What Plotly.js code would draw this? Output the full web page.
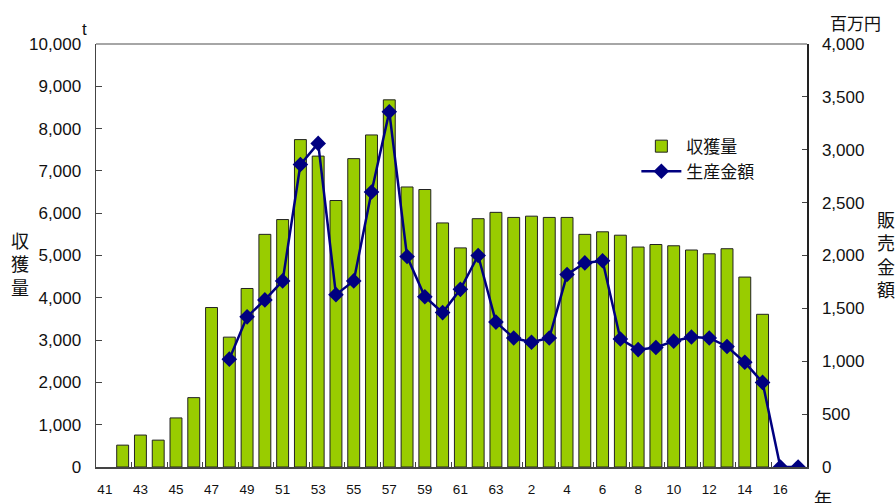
<!DOCTYPE html>
<html>
<head>
<meta charset="utf-8">
<script src="https://cdn.plot.ly/plotly-3.0.1.min.js"></script>
<style>html,body{margin:0;padding:0;background:#fff;}#chart{width:895px;height:503px;}</style>
</head>
<body>
<div id="chart"></div>
<script>
// 年（昭和41〜63、平成元〜17）
const years = ["41","42","43","44","45","46","47","48","49","50","51","52","53","54","55","56","57","58","59","60","61","62","63",
  "1","2","3","4","5","6","7","8","9","10","11","12","13","14","15","16","17"];
// 収獲量 (t)
const harvest = [null,517,755,635,1160,1640,3770,3070,4220,5500,5850,7740,7350,6300,7290,7850,8680,6620,6560,5770,5180,5870,6020,
  5900,5930,5900,5900,5500,5560,5480,5200,5260,5230,5130,5040,5160,4490,3610,null,null];
// 生産金額 (百万円)
const amount = [null,null,null,null,null,null,null,1020,1420,1580,1760,2860,3060,1630,1760,2600,3360,1990,1610,1460,1680,2000,1370,
  1220,1180,1220,1820,1930,1950,1210,1110,1130,1190,1230,1220,1140,990,800,0,0];

const fontFam = '"Liberation Sans", Arial, "Noto Sans CJK JP", sans-serif';
const jpFont = '"Noto Sans CJK JP", "Liberation Sans", sans-serif';

const traces = [
  {type:'bar', name:'収獲量', x:years, y:harvest, yaxis:'y',
   marker:{color:'#99CC00', line:{color:'#222', width:1}}, hoverinfo:'skip'},
  {type:'scatter', mode:'lines+markers', name:'生産金額', x:years, y:amount, yaxis:'y2',
   line:{color:'#000080', width:2.5}, marker:{symbol:'diamond', size:12, color:'#000080'},
   connectgaps:false, hoverinfo:'skip'}
];

const layout = {
  width:895, height:503,
  margin:{l:96, r:88, t:44, b:36},
  paper_bgcolor:'#fff', plot_bgcolor:'#fff',
  font:{family:fontFam, color:'#111', size:17},
  showlegend:true,
  legend:{x:0.76, y:0.80, xanchor:'left', yanchor:'top', bgcolor:'rgba(0,0,0,0)',
          font:{family:jpFont, size:17, color:'#111'}, tracegroupgap:0, itemwidth:40},
  bargap:0.33,
  xaxis:{type:'category', range:[-0.5,39.5], tickmode:'linear', tick0:0, dtick:2, tickangle:0,
         tickson:'boundaries', ticks:'inside', ticklen:5, tickcolor:'#444',
         showline:true, linecolor:'#444', linewidth:1.5, showgrid:false, zeroline:false,
         tickfont:{size:13.5, family:fontFam, color:'#111'}, ticklabelstandoff:9, fixedrange:true},
  yaxis:{range:[0,10000], dtick:1000, tickformat:',d', ticks:'inside', ticklen:6, tickcolor:'#444',
         showline:true, linecolor:'#444', linewidth:1.5, showgrid:false, zeroline:false,
         tickfont:{size:17, family:fontFam, color:'#111'}, ticklabelstandoff:10, fixedrange:true},
  yaxis2:{range:[0,4000], dtick:500, tickformat:',d', overlaying:'y', side:'right',
          ticks:'inside', ticklen:5, tickcolor:'#444',
          showline:true, linecolor:'#222', linewidth:1.5, showgrid:false, zeroline:false,
          tickfont:{size:17, family:fontFam, color:'#111'}, ticklabelstandoff:10, fixedrange:true},
  shapes:[
    {type:'line', xref:'paper', yref:'paper', x0:0, x1:1, y0:1, y1:1, line:{color:'#888', width:1.5}}
  ],
  annotations:[
    {text:'t', xref:'paper', yref:'paper', x:-0.016, y:1.0, xanchor:'center', yanchor:'bottom', yshift:3,
     showarrow:false, font:{family:fontFam, size:17, color:'#111'}},
    {text:'百万円', xref:'paper', yref:'paper', x:1.068, y:1.0, xanchor:'center', yanchor:'bottom', yshift:7,
     showarrow:false, font:{family:jpFont, size:17, color:'#111'}},
    {text:'収<br>獲<br>量', xref:'paper', yref:'paper', x:-0.107, y:0.5, xanchor:'center', yanchor:'middle', yshift:-8,
     showarrow:false, font:{family:jpFont, size:18, color:'#111'}},
    {text:'販<br>売<br>金<br>額', xref:'paper', yref:'paper', x:1.111, y:0.5, xanchor:'center', yanchor:'middle', yshift:2,
     showarrow:false, font:{family:jpFont, size:18, color:'#111'}},
    {text:'年', xref:'paper', yref:'paper', x:1.0225, y:0, xanchor:'center', yanchor:'top', yshift:-16,
     showarrow:false, font:{family:jpFont, size:18, color:'#111'}}
  ]
};

Plotly.newPlot('chart', traces, layout, {displayModeBar:false, staticPlot:true});
</script>
</body>
</html>
